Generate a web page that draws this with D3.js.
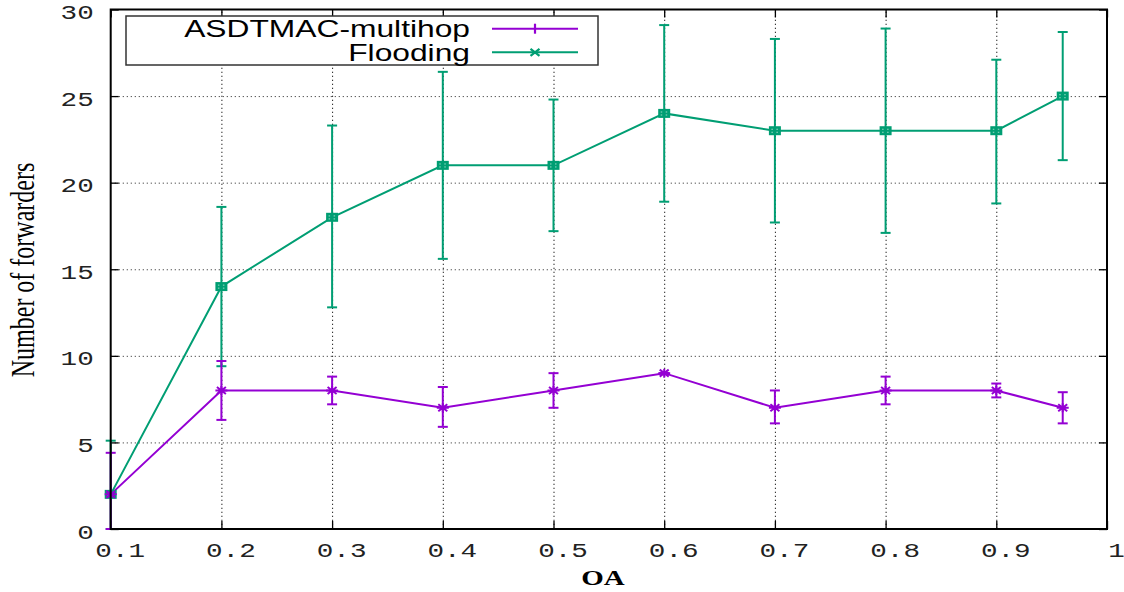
<!DOCTYPE html>
<html><head><meta charset="utf-8">
<script src="https://cdn.jsdelivr.net/npm/d3@7"></script>
<style>
html,body{margin:0;padding:0;background:#fff;}
svg{display:block;}
</style></head>
<body>
<svg id="chart" width="1124" height="592"></svg>
<script>
const oaValues = [0.1, 0.2, 0.3, 0.4, 0.5, 0.6, 0.7, 0.8, 0.9, 0.96];
const asdtmac = [2, 8, 8, 7, 8, 9, 7, 8, 8, 7];
const asdtmacLow = [0, 6.3, 7.2, 5.9, 7.0, 9, 6.1, 7.2, 7.6, 6.1];
const asdtmacHigh = [4.4, 9.7, 8.8, 8.2, 9.0, 9, 8.0, 8.8, 8.4, 7.9];
const flooding = [2, 14, 18, 21, 21, 24, 23, 23, 23, 25];
const floodingLow = [0, 9.4, 12.8, 15.6, 17.2, 18.9, 17.7, 17.1, 18.8, 21.3];
const floodingHigh = [5.1, 18.6, 23.3, 26.4, 24.8, 29.1, 28.3, 28.9, 27.1, 28.7];
const xTicks = [0.1, 0.2, 0.3, 0.4, 0.5, 0.6, 0.7, 0.8, 0.9, 1];
const xTickLabels = ["0.1", "0.2", "0.3", "0.4", "0.5", "0.6", "0.7", "0.8", "0.9", "1"];
const yTicks = [0, 5, 10, 15, 20, 25, 30];
const seriesNames = ["ASDTMAC-multihop", "Flooding"];
const xLabel = "OA";
const yLabel = "Number of forwarders";

const PURPLE = "#9400d3", GREEN = "#009e73";
const SX = 1.38;
const L = 110.7, R = 1107, T = 9.5, B = 529;
const svg = d3.select("#chart");
const x = d3.scaleLinear().domain([0.1, 1]).range([L, R]);
const y = d3.scaleLinear().domain([0, 30]).range([B, T]);

// grid
const gx = svg.append("g").attr("transform", `translate(0,${B})`)
  .call(d3.axisBottom(x).tickValues(xTicks.filter(d => d > 0.1 && d < 1)).tickSize(-(B - T)).tickFormat(""));
gx.select(".domain").remove();
gx.selectAll("line").attr("stroke", "#222").attr("stroke-width", 1).attr("stroke-dasharray", "1.3,2.7");
const gy = svg.append("g").attr("transform", `translate(${L},0)`)
  .call(d3.axisLeft(y).tickValues(yTicks.filter(d => d > 0 && d < 30)).tickSize(-(R - L)).tickFormat(""));
gy.select(".domain").remove();
gy.selectAll("line").attr("stroke", "#555").attr("stroke-width", 1).attr("stroke-dasharray", "1.3,2.7");

// axes with ticks & labels
const fmt = d => xTickLabels[xTicks.indexOf(d)];
const ax = svg.append("g").attr("transform", `translate(0,${B})`)
  .call(d3.axisBottom(x).tickValues(xTicks).tickSizeInner(-8).tickSizeOuter(0).tickFormat(fmt));
const ay = svg.append("g").attr("transform", `translate(${L},0)`)
  .call(d3.axisLeft(y).tickValues(yTicks).tickSizeInner(-8).tickSizeOuter(0));
const at = svg.append("g").attr("transform", `translate(0,${T})`)
  .call(d3.axisTop(x).tickValues(xTicks).tickSizeInner(-8).tickSizeOuter(0).tickFormat(""));
const ar = svg.append("g").attr("transform", `translate(${R},0)`)
  .call(d3.axisRight(y).tickValues(yTicks).tickSizeInner(-8).tickSizeOuter(0).tickFormat(""));
[ax, ay, at, ar].forEach(g => {
  g.select(".domain").remove();
  g.selectAll("line").attr("stroke", "#000").attr("stroke-width", 1.3);
});
ax.selectAll("text").attr("y", null).attr("dy", null)
  .attr("transform", `translate(9,28) scale(${SX},1)`)
  .attr("text-anchor", "middle").attr("fill", "#222")
  .style("font-family", "'Liberation Mono', monospace").style("font-size", "20px");
ay.selectAll("text").attr("x", null).attr("dy", null)
  .attr("transform", `translate(-17,9) scale(${SX},1)`)
  .attr("text-anchor", "end").attr("fill", "#222")
  .style("font-family", "'Liberation Mono', monospace").style("font-size", "20px");

// error bars
function errorBars(vals, low, high, color) {
  const g = svg.append("g").attr("stroke", color).attr("stroke-width", 2).attr("fill", "none");
  oaValues.forEach((v, i) => {
    const cx = x(v);
    g.append("line").attr("x1", cx).attr("x2", cx).attr("y1", y(low[i])).attr("y2", y(high[i]));
    g.append("line").attr("x1", cx - 5).attr("x2", cx + 5).attr("y1", y(low[i])).attr("y2", y(low[i]));
    g.append("line").attr("x1", cx - 5).attr("x2", cx + 5).attr("y1", y(high[i])).attr("y2", y(high[i]));
  });
}
errorBars(flooding, floodingLow, floodingHigh, GREEN);
errorBars(asdtmac, asdtmacLow, asdtmacHigh, PURPLE);

const line = d3.line().x((d, i) => x(oaValues[i])).y(d => y(d));
svg.append("path").datum(flooding).attr("d", line).attr("fill", "none").attr("stroke", GREEN).attr("stroke-width", 2);
svg.append("path").datum(asdtmac).attr("d", line).attr("fill", "none").attr("stroke", PURPLE).attr("stroke-width", 2);

// markers
const star = "M-6,0L6,0M0,-4.5L0,4.5M-4.5,-3.5L4.5,3.5M-4.5,3.5L4.5,-3.5";
flooding.forEach((v, i) => {
  const g = svg.append("g").attr("transform", `translate(${x(oaValues[i])},${y(v)})`);
  g.append("rect").attr("x", -6).attr("y", -4.5).attr("width", 12).attr("height", 9).attr("fill", GREEN);
  [[-3.5, -2], [1.5, -2], [-3.5, 1], [1.5, 1]].forEach(p =>
    g.append("rect").attr("x", p[0]).attr("y", p[1]).attr("width", 1.5).attr("height", 1.2).attr("fill", "#7fd0b8"));
});
asdtmac.forEach((v, i) => {
  svg.append("path").attr("transform", `translate(${x(oaValues[i])},${y(v)})`)
    .attr("d", star).attr("stroke", PURPLE).attr("stroke-width", 2).attr("fill", "none");
});

// frame
svg.append("rect").attr("x", L).attr("y", T).attr("width", R - L).attr("height", B - T)
  .attr("fill", "none").attr("stroke", "#000").attr("stroke-width", 2);

// legend
const lg = svg.append("g");
lg.append("rect").attr("x", 126).attr("y", 16).attr("width", 472).attr("height", 49)
  .attr("fill", "#fff").attr("stroke", "#333").attr("stroke-width", 1.5);
const legendRows = [{name: seriesNames[0], color: PURPLE, mk: "M0,-5L0,5"}, {name: seriesNames[1], color: GREEN, mk: "M-4.5,-3.5L4.5,3.5M-4.5,3.5L4.5,-3.5"}];
legendRows.forEach((r, i) => {
  const cy = 28.7 + i * 23.6;
  lg.append("text").attr("transform", `translate(470,${cy + 8.2}) scale(1.34,1)`)
    .attr("text-anchor", "end").style("font-family", "'Liberation Sans', Arial, sans-serif")
    .style("font-size", "23.7px").attr("fill", "#000").text(r.name);
  lg.append("line").attr("x1", 492).attr("x2", 578).attr("y1", cy).attr("y2", cy)
    .attr("stroke", r.color).attr("stroke-width", 2);
  lg.append("path").attr("transform", `translate(535,${cy})`).attr("d", r.mk)
    .attr("stroke", r.color).attr("stroke-width", 2.2).attr("fill", "none");
});

// axis titles
svg.append("text").attr("transform", `translate(603,585) scale(${SX},1)`)
  .attr("text-anchor", "middle").style("font-family", "'Liberation Serif', 'Times New Roman', serif")
  .style("font-size", "21px").style("font-weight", "bold").attr("fill", "#000").text(xLabel);
svg.append("text").attr("transform", `translate(34,270) scale(${SX},1) rotate(-90)`)
  .attr("text-anchor", "middle").style("font-family", "'Liberation Serif', 'Times New Roman', serif")
  .style("font-size", "24px").attr("fill", "#000").text(yLabel);
</script>
</body></html>
